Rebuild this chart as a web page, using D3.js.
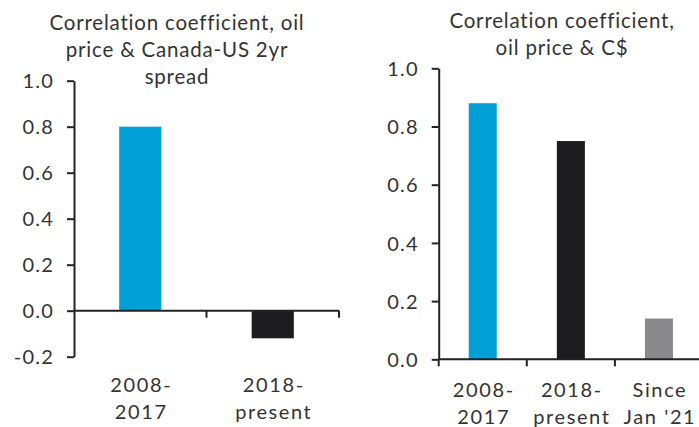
<!DOCTYPE html>
<html><head><meta charset="utf-8">
<script src="https://cdn.jsdelivr.net/npm/d3@7"></script>
<style>
body{margin:0;background:#fff;}
svg text{font-family:Lato,"Open Sans",sans-serif;fill:#333;}
</style></head>
<body>
<svg id="c" width="699" height="427"></svg>
<script>
// Left panel data
const leftTitle = ["Correlation coefficient, oil", "price & Canada-US 2yr", "spread"];
const leftCats = [["2008-","2017"],["2018-","present"]];
const leftVals = [0.80, -0.12];
const leftColors = ["#009FD6", "#1C1C1E"];
const leftTicks = [-0.2, 0.0, 0.2, 0.4, 0.6, 0.8, 1.0];

// Right panel data
const rightTitle = ["Correlation coefficient,", "oil price & C$"];
const rightCats = [["2008-","2017"],["2018-","present"],["Since","Jan '21"]];
const rightVals = [0.88, 0.75, 0.14];
const rightColors = ["#009FD6", "#1C1C1E", "#8A8A8C"];
const rightTicks = [0.0, 0.2, 0.4, 0.6, 0.8, 1.0];

const svg = d3.select("#c");

function panel(o){
  const g = svg.append("g");
  const y = d3.scaleLinear().domain(o.domain).range([o.yBottom, o.yTop]);
  const keys = o.cats.map((c,i)=>i);
  const x = d3.scaleBand().domain(keys).range([o.xLeft, o.xRight]).padding(0);
  const bw = x.bandwidth()*0.318;

  // bars
  g.selectAll("rect").data(o.vals).enter().append("rect")
    .attr("x",(d,i)=>x(i)+x.bandwidth()/2-bw/2)
    .attr("y",d=>y(Math.max(0,d)))
    .attr("width",bw)
    .attr("height",d=>Math.abs(y(d)-y(0)))
    .attr("fill",(d,i)=>o.colors[i]);

  // y axis
  const ya = g.append("g").attr("transform",`translate(${o.xLeft},0)`)
    .call(d3.axisLeft(y).tickValues(o.ticks).tickFormat(d3.format(".1f")).tickSize(7).tickPadding(13).tickSizeOuter(0));
  ya.select(".domain").attr("stroke","#222").attr("stroke-width",2);
  ya.selectAll(".tick line").attr("stroke","#222").attr("stroke-width",2);
  ya.selectAll(".tick text").attr("font-size",20).attr("fill","#333")
    .style("font-family","Lato,'Open Sans',sans-serif").style("letter-spacing","1.2px").attr("dy","0.36em")
    .text(d=>d3.format(".1f")(d).replace("−","-"));

  // x axis line at 0
  const y0 = y(0);
  g.append("line").attr("x1",o.xLeft).attr("x2",o.xRight).attr("y1",y0).attr("y2",y0)
    .attr("stroke","#222").attr("stroke-width",2);
  // category ticks at band boundaries
  const bounds = keys.map(i=>x(i)+x.bandwidth()).concat(o.tickAtLeft?[o.xLeft]:[]);
  g.selectAll("line.ct").data(bounds).enter().append("line").attr("class","ct")
    .attr("x1",d=>d).attr("x2",d=>d).attr("y1",y0).attr("y2",y0+7)
    .attr("stroke","#222").attr("stroke-width",2);

  // category labels
  o.cats.forEach((c,i)=>{
    const cx = x(i)+x.bandwidth()/2 + 1;
    const t = g.append("text").attr("x",cx).attr("y",o.labelY)
      .attr("text-anchor","middle").attr("font-size",20).style("letter-spacing","1.6px");
    c.forEach((line,j)=>t.append("tspan").attr("x",cx).attr("dy",j?27:0).text(line));
  });

  // title
  const tt = g.append("text").attr("x",o.titleX).attr("y",o.titleY).attr("text-anchor","middle")
    .attr("font-size",20.5).style("letter-spacing","0.8px");
  o.title.forEach((line,j)=>tt.append("tspan").attr("x",o.titleX).attr("dy",j?27:0).text(line));
}

panel({title:leftTitle,cats:leftCats,vals:leftVals,colors:leftColors,ticks:leftTicks,
  domain:[-0.2,1.0],yBottom:356.7,yTop:80.7,xLeft:74,xRight:339,labelY:392,
  titleX:177,titleY:30,tickAtLeft:false});
panel({title:rightTitle,cats:rightCats,vals:rightVals,colors:rightColors,ticks:rightTicks,
  domain:[0,1.0],yBottom:359.3,yTop:68.3,xLeft:438.7,xRight:703,labelY:397,
  titleX:562,titleY:28,tickAtLeft:true});
</script>
</body></html>
